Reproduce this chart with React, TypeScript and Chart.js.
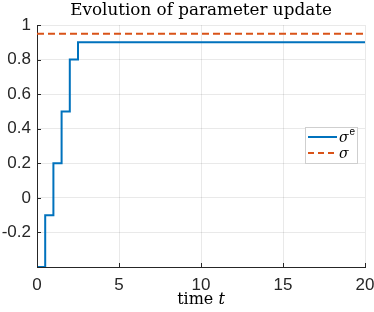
import React, { useEffect, useRef } from "react";
import { Chart, registerables } from "chart.js";

Chart.register(...registerables);

const stepTimes = [0, 0.5, 1, 1.5, 2, 2.5, 20];
const estimateValues = [-0.4, -0.1, 0.2, 0.5, 0.8, 0.9, 0.9];
const trueTimes = [0, 20];
const trueValues = [0.95, 0.95];
const xTicks = [0, 5, 10, 15, 20];
const yTicks = [-0.2, 0, 0.2, 0.4, 0.6, 0.8, 1];
const titleText = "Evolution of parameter update";
const xLabelMain = "time ";
const xLabelVar = "t";
const legendLabels = ["σ", "σ"];
const legendSup = ["e", ""];

const BLUE = "#0072BD";
const ORANGE = "#D95319";
const AXIS = "#262626";

const fmt = (v: number) => {
  if (Math.abs(v) < 1e-9) return "0";
  if (Math.abs(v - Math.round(v)) < 1e-9) return String(Math.round(v));
  return v.toFixed(1);
};

const decorPlugin = {
  id: "decor",
  afterDatasetsDraw(chart: any) {
    const { ctx, chartArea: a, scales } = chart;
    ctx.save();
    ctx.strokeStyle = AXIS;
    ctx.lineWidth = 1;
    ctx.beginPath();
    xTicks.forEach((t) => {
      const px = Math.round(scales.x.getPixelForValue(t)) + 0.5;
      ctx.moveTo(px, a.bottom);
      ctx.lineTo(px, a.bottom - 4);
    });
    yTicks.forEach((t) => {
      const py = Math.round(scales.y.getPixelForValue(t)) + 0.5;
      ctx.moveTo(a.left, py);
      ctx.lineTo(a.left + 4, py);
    });
    ctx.stroke();
    ctx.restore();
  },
  afterDraw(chart: any) {
    const { ctx, chartArea: a } = chart;
    ctx.save();
    ctx.fillStyle = "#000";
    ctx.font = "16.8px 'DejaVu Serif'";
    ctx.textAlign = "center";
    ctx.textBaseline = "alphabetic";
    const cx = (a.left + a.right) / 2;
    ctx.fillText(titleText, cx, 15);
    const lf = "16px 'DejaVu Serif'";
    const lfi = "italic 16px 'DejaVu Serif'";
    ctx.font = lf;
    const w1 = ctx.measureText(xLabelMain).width;
    ctx.font = lfi;
    const w2 = ctx.measureText(xLabelVar).width;
    const start = cx - (w1 + w2) / 2;
    ctx.textAlign = "left";
    ctx.font = lf;
    ctx.fillText(xLabelMain, start, 304);
    ctx.font = lfi;
    ctx.fillText(xLabelVar, start + w1, 304);
    // legend
    const bx = a.right - 60;
    const by = a.top + 102;
    const bw = 52;
    const bh = 36;
    ctx.fillStyle = "#fff";
    ctx.fillRect(bx, by, bw, bh);
    ctx.strokeStyle = "#cfcfcf";
    ctx.lineWidth = 1;
    ctx.strokeRect(bx + 0.5, by + 0.5, bw, bh);
    const rows = [
      { color: BLUE, dash: [] as number[] },
      { color: ORANGE, dash: [6, 4] },
    ];
    rows.forEach((r, i) => {
      const y = by + 10 + i * 16;
      ctx.strokeStyle = r.color;
      ctx.lineWidth = 2;
      ctx.setLineDash(r.dash);
      ctx.beginPath();
      ctx.moveTo(bx + 3, y);
      ctx.lineTo(bx + 32, y);
      ctx.stroke();
      ctx.setLineDash([]);
      ctx.fillStyle = "#000";
      ctx.font = "italic 14px 'DejaVu Serif'";
      ctx.textAlign = "left";
      ctx.textBaseline = "middle";
      ctx.fillText(legendLabels[i], bx + 34, y + 1);
      if (legendSup[i]) {
        const sw = ctx.measureText(legendLabels[i]).width;
        ctx.font = "10px 'Liberation Sans'";
        ctx.fillText(legendSup[i], bx + 34 + sw + 1, y - 5);
      }
    });
    ctx.restore();
  },
};

export default function App() {
  const ref = useRef<HTMLCanvasElement | null>(null);
  useEffect(() => {
    document.body.style.margin = "0";
    if (!ref.current) return;
    const chart = new Chart(ref.current, {
      type: "line",
      data: {
        datasets: [
          {
            label: "σe",
            data: stepTimes.map((t, i) => ({ x: t, y: estimateValues[i] })),
            borderColor: BLUE,
            borderWidth: 2,
            stepped: "before",
            pointRadius: 0,
            fill: false,
          },
          {
            label: "σ",
            data: trueTimes.map((t, i) => ({ x: t, y: trueValues[i] })),
            borderColor: ORANGE,
            borderWidth: 2,
            borderDash: [7, 4],
            pointRadius: 0,
            fill: false,
          },
        ],
      },
      options: {
        responsive: false,
        animation: false,
        layout: { padding: { left: 0, top: 25, right: 9, bottom: 0 } },
        plugins: {
          legend: { display: false },
          title: { display: false },
          tooltip: { enabled: false },
        },
        scales: {
          x: {
            type: "linear",
            min: 0,
            max: 20,
            afterBuildTicks: (s: any) => {
              s.ticks = xTicks.map((v) => ({ value: v }));
            },
            afterFit: (s: any) => {
              s.height = 45;
              s.paddingLeft = 0;
              s.paddingRight = 0;
            },
            ticks: {
              maxRotation: 0,
              padding: 8,
              color: AXIS,
              font: { family: "'Liberation Sans'", size: 17 },
              callback: (v: any) => fmt(Number(v)),
            },
            grid: { color: "rgba(38,38,38,0.1)", drawTicks: false },
            border: { color: AXIS, width: 1 },
          },
          y: {
            type: "linear",
            min: -0.4,
            max: 1,
            afterBuildTicks: (s: any) => {
              s.ticks = yTicks.map((v) => ({ value: v }));
            },
            afterFit: (s: any) => {
              s.width = 37;
              s.paddingTop = 0;
              s.paddingBottom = 0;
            },
            ticks: {
              padding: 6,
              color: AXIS,
              font: { family: "'Liberation Sans'", size: 17 },
              callback: (v: any) => fmt(Number(v)),
            },
            grid: { color: "rgba(38,38,38,0.1)", drawTicks: false },
            border: { color: AXIS, width: 1 },
          },
        },
      },
      plugins: [decorPlugin],
    } as any);
    return () => chart.destroy();
  }, []);
  return <canvas ref={ref} width={374} height={312} />;
}
